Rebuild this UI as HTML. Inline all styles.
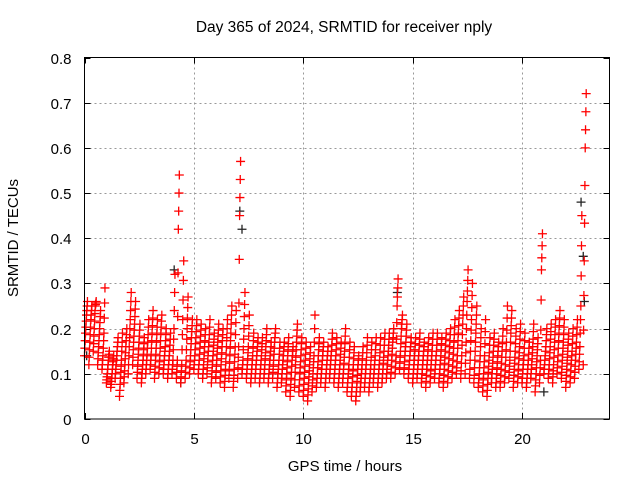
<!DOCTYPE html>
<html><head><meta charset="utf-8"><style>
body{margin:0;background:#fff}
svg{display:block;font-family:"Liberation Sans",sans-serif}
</style></head><body>
<svg id="chart" width="640" height="480" viewBox="0 0 640 480" xmlns="http://www.w3.org/2000/svg">
<rect width="640" height="480" fill="#fff"/>
<text x="344" y="32" font-size="15.5" text-anchor="middle" fill="#000">Day 365 of 2024, SRMTID for receiver nply</text>
<text x="345" y="471" font-size="15" text-anchor="middle" fill="#000">GPS time / hours</text>
<text transform="translate(18,238) rotate(-90)" font-size="15" text-anchor="middle" fill="#000">SRMTID / TECUs</text>
<g id="grid"></g><g id="ticks"></g><g id="marks"></g>
<rect x="84.5" y="57.5" width="525" height="361.5" fill="none" stroke="#000" stroke-width="1"/>
</svg>
<script>
const binStartHours = 0;
const binWidthHours = 0.2;
const seriesA = [.14,.12,.15,.12,.11,.08,.07,.09,.05,.08,.10,.12,.09,.08,.10,.11,.09,.10,.10,.09,.10,.09,.08,.09,.10,.11,.10,.09,.10,.08,.09,.08,.07,.09,.07,.09,.10,.09,.08,.09,.08,.09,.08,.09,.07,.08,.06,.05,.07,.06,.05,.04,.06,.07,.08,.07,.09,.08,.07,.08,.06,.05,.04,.06,.07,.06,.08,.07,.08,.09,.09,.10,.11,.10,.09,.08,.09,.08,.07,.08,.09,.08,.07,.08,.09,.10,.09,.10,.09,.08,.07,.06,.05,.08,.07,.07,.08,.09,.07,.08,.08,.07,.09,.06,.08,.10,.09,.08,.10,.09,.07,.08,.09,.11,.12];
const seriesB = [.19,.17,.20,.16,.14,.10,.09,.12,.09,.12,.16,.17,.13,.11,.13,.14,.13,.14,.13,.12,.13,.13,.12,.13,.14,.14,.13,.12,.14,.12,.13,.12,.11,.14,.11,.16,.13,.12,.11,.12,.11,.12,.11,.13,.10,.11,.10,.09,.12,.10,.09,.08,.10,.10,.11,.10,.12,.11,.10,.11,.09,.08,.07,.09,.10,.09,.11,.10,.11,.12,.13,.14,.15,.14,.12,.11,.12,.11,.11,.12,.12,.11,.11,.12,.13,.14,.14,.17,.15,.13,.10,.10,.09,.11,.10,.11,.12,.13,.11,.12,.11,.10,.12,.10,.13,.13,.12,.12,.14,.13,.11,.12,.13,.16,.35];
const seriesC = [.23,.22,.25,.20,.19,.13,.12,.15,.13,.16,.22,.21,.17,.14,.17,.19,.17,.19,.16,.15,.20,.42,.22,.20,.18,.18,.17,.16,.17,.15,.17,.16,.16,.19,.16,.45,.20,.16,.14,.15,.14,.16,.14,.17,.13,.14,.14,.13,.17,.14,.13,.12,.14,.14,.14,.13,.15,.14,.13,.15,.12,.12,.11,.12,.13,.12,.14,.13,.15,.15,.17,.25,.20,.17,.15,.14,.15,.14,.14,.15,.15,.14,.15,.16,.17,.19,.21,.26,.22,.19,.14,.14,.13,.15,.14,.15,.17,.19,.15,.16,.14,.13,.16,.14,.33,.16,.16,.17,.19,.17,.15,.15,.17,.25,.60];
const seriesD = [.26,.25,.26,.24,.29,.15,.14,.18,.19,.20,.28,.26,.21,.18,.22,.24,.22,.23,.20,.19,.32,.54,.35,.27,.22,.22,.21,.20,.22,.19,.21,.20,.22,.25,.24,.57,.28,.23,.19,.18,.18,.20,.17,.20,.17,.17,.18,.16,.21,.18,.17,.16,.23,.18,.17,.16,.19,.18,.17,.20,.17,.16,.14,.16,.18,.17,.18,.18,.19,.19,.20,.31,.23,.21,.18,.18,.19,.17,.18,.19,.19,.18,.19,.20,.22,.24,.27,.33,.30,.25,.20,.22,.18,.19,.17,.20,.25,.24,.20,.21,.19,.17,.21,.18,.41,.20,.21,.22,.24,.22,.19,.20,.22,.45,.72];
const blackTimes = [4.1,7.1,7.2,22.7,22.8,22.85,14.3,21.0,0.1,4.4];
const blackValues = [.33,.46,.42,.48,.36,.26,.28,.06,.14,.08];
const xTicks = [0,5,10,15,20];
const yTicks = [0,0.1,0.2,0.3,0.4,0.5,0.6,0.7,0.8];
const yTickLabels = ["0","0.1","0.2","0.3","0.4","0.5","0.6","0.7","0.8"];

const NS="http://www.w3.org/2000/svg";
const X0=84.5,X1=609.5,Y0=419,Y1=57.5,XMAX=24,YMAX=0.8;
function xs(h){return X0+(h/XMAX)*(X1-X0);}
function ys(v){return Y0-(v/YMAX)*(Y0-Y1);}
function mk(tag,attrs,parent){const e=document.createElementNS(NS,tag);for(const k in attrs)e.setAttribute(k,attrs[k]);parent.appendChild(e);return e;}
const grid=document.getElementById('grid'),ticks=document.getElementById('ticks'),marks=document.getElementById('marks');
yTicks.forEach((v,i)=>{
  const y=Math.round(ys(v))+0.5;
  if(v>0&&v<YMAX){const g=mk('line',{x1:X0,x2:X1,y1:y,y2:y,stroke:'#999','stroke-dasharray':'2,3'},grid);
  
  }
  const t=mk('line',{x1:X0,x2:X0+6,y1:y,y2:y,stroke:'#000'},ticks);
  
  
  const t2=mk('line',{x1:X1-6,x2:X1,y1:y,y2:y,stroke:'#000'},ticks);
  
  
  const l=mk('text',{x:X0-13,y:y+5.5,'font-size':15,'text-anchor':'end',fill:'#000'},ticks);
  l.textContent=yTickLabels[i];
  
  
});
xTicks.forEach(h=>{
  const x=Math.round(xs(h))+0.5;
  if(h>0){const g=mk('line',{x1:x,x2:x,y1:Y1,y2:Y0,stroke:'#999','stroke-dasharray':'2,3'},grid);
  
  }
  const t=mk('line',{x1:x,x2:x,y1:Y0,y2:Y0-6,stroke:'#000'},ticks);
  
  
  const t2=mk('line',{x1:x,x2:x,y1:Y1,y2:Y1+6,stroke:'#000'},ticks);
  
  
  const l=mk('text',{x:x,y:Y0+25,'font-size':15,'text-anchor':'middle',fill:'#000'},ticks);
  l.textContent=String(h);
  
  
});
function plus(h,v,color,name){
  const x=xs(h),y=ys(v);
  const p=mk('path',{d:`M${x-4.5},${y}H${x+4.5}M${x},${y-4.5}V${y+4.5}`,stroke:color,'stroke-width':1.3,fill:'none'},marks);
  
  
}
blackTimes.forEach((h,i)=>plus(h,blackValues[i],'#222','black-point'));
const allSeries=[seriesA,seriesB,seriesC,seriesD];
allSeries.forEach((s,k)=>{
  s.forEach((v,i)=>{
    const h=binStartHours+i*binWidthHours+k*0.045;
    plus(h,v,'#f00','red-point');
    if(k<3){
      const nv=allSeries[k+1][i];
      plus(h+0.015,v+(nv-v)/3,'#f00','red-point');
      plus(h+0.03,v+2*(nv-v)/3,'#f00','red-point');
    }
  });
});
</script>
</body></html>
